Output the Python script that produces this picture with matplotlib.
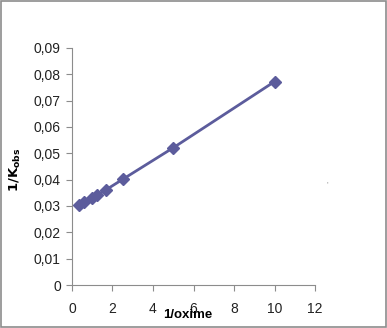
import matplotlib
matplotlib.use("Agg")
import matplotlib.pyplot as plt
from matplotlib.patches import Rectangle
from matplotlib.ticker import FuncFormatter

# 1/[oxime] vs 1/Kobs
inv_oxime = [0.33, 0.6, 1.0, 1.25, 1.67, 2.5, 5.0, 10.0]
inv_kobs = [0.0302, 0.0315, 0.0330, 0.0342, 0.0361, 0.0401, 0.0521, 0.0772]

xticks = [0, 2, 4, 6, 8, 10, 12]
yticks = [0, 0.01, 0.02, 0.03, 0.04, 0.05, 0.06, 0.07, 0.08, 0.09]

plt.rcParams['font.family'] = ['Liberation Sans Narrow', 'Liberation Sans', 'DejaVu Sans']
col = '#5c5c9c'

fig = plt.figure(figsize=(3.87, 3.28), dpi=100)
ax = fig.add_axes([0.186, 0.131, 0.628, 0.723])
ax.plot(inv_oxime, inv_kobs, color=col, lw=2, marker='D', ms=6.5,
        markerfacecolor=col, markeredgecolor=col)

ax.set_xlim(0, 12)
ax.set_ylim(0, 0.09)
ax.set_xticks(xticks)
ax.set_yticks(yticks)
ax.yaxis.set_major_formatter(FuncFormatter(
    lambda v, p: '0' if abs(v) < 1e-9 else ('%.2f' % v).replace('.', ',')))
for s in ['top', 'right']:
    ax.spines[s].set_visible(False)
for s in ['left', 'bottom']:
    ax.spines[s].set_color('#8c8c8c')
ax.tick_params(direction='out', length=4, color='#8c8c8c', labelsize=10,
               labelcolor='#222222')
ax.tick_params(axis='x', pad=8)
ax.tick_params(axis='y', pad=4)

fig.text(0.041, 0.482, r'$\mathbf{1/K_{obs}}$', rotation=90, ha='center',
         va='center', fontsize=9.5)
fig.text(0.485, 0.04, '1/oxime', ha='center', va='center', fontsize=9.5,
         fontweight='bold')
fig.text(0.845, 0.437, "'", ha='center', va='center', fontsize=6, color='#888888')

fig.patches.append(Rectangle((0.003, 0.003), 0.994, 0.994, transform=fig.transFigure,
                             fill=False, edgecolor='#8c8c8c', lw=1.2))
fig.savefig('out.png', dpi=100)
